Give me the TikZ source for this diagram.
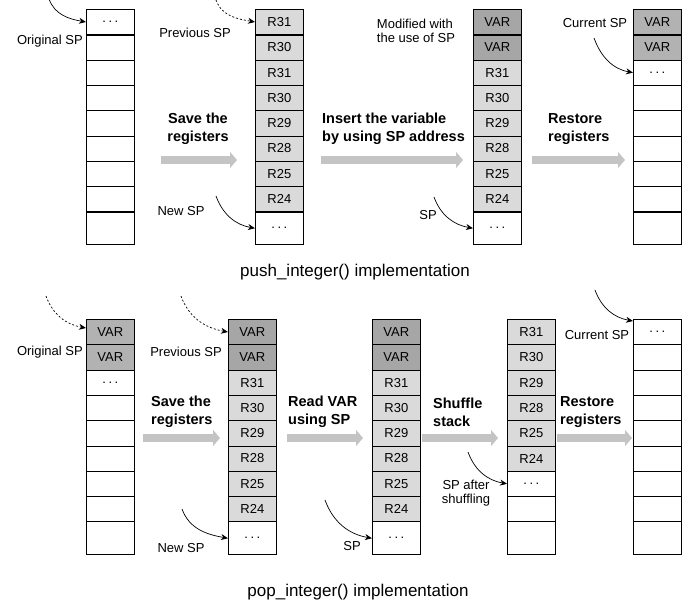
\documentclass[tikz,border=0pt]{standalone}
\usepackage{fontspec}
\setmainfont{Liberation Sans}
\usetikzlibrary{arrows.meta}
\definecolor{dk}{HTML}{A6A6A6}
\definecolor{md}{HTML}{B2B2B2}
\definecolor{lt}{HTML}{DADADA}
\definecolor{ag}{HTML}{C4C4C4}
\newcommand\dts{.\kern2.5pt.\kern2.5pt.}
\newcommand\mkstack[4]{%
  \foreach \s/\t [count=\i] in {#4} {
    \node[cell,\s] (#1-\i) at (#2,{#3+(\i-1)*25.3}) {\t};
  }}
\tikzset{
  cell/.style={draw, line width=0.7pt, minimum width=48pt, minimum height=25.3pt,
    inner sep=0pt, anchor=north west, font=\fontsize{13}{15}\selectfont},
  cellw/.style={fill=white}, celll/.style={fill=lt}, celld/.style={fill=dk}, cellm/.style={fill=md},
  cellt/.style={fill=white, minimum height=33pt},
  thicksep/.style={line width=1.3pt},
  lab/.style={inner sep=0pt, font=\fontsize{13}{14}\selectfont},
  blab/.style={inner sep=0pt, font=\fontsize{14.5}{18}\selectfont\bfseries},
  captxt/.style={inner sep=0pt, font=\fontsize{17}{20}\selectfont},
  ptr/.style={line width=0.7pt, -{Stealth[length=7pt,width=6pt]}},
  ptrd/.style={ptr, dash pattern=on 2pt off 2pt},
  bigarrow/.style={draw=ag, line width=8pt, -{Triangle[length=7pt,width=16pt]}}
}
\begin{document}
\begin{tikzpicture}[x=1pt,y=-1pt]
\useasboundingbox (0,0) rectangle (695,607);
% ---------- top row ----------
\mkstack{t1}{86}{9}{cellw/\dts,cellw/{},cellw/{},cellw/{},cellw/{},cellw/{},cellw/{},cellw/{},cellt/{}}
\mkstack{t2}{255}{9}{celll/R31,celll/R30,celll/R31,celll/R30,celll/R29,celll/R28,celll/R25,celll/R24,cellt/\dts}
\mkstack{t3}{473}{9}{celld/VAR,celld/VAR,celll/R31,celll/R30,celll/R29,celll/R28,celll/R25,celll/R24,cellt/\dts}
\mkstack{t4}{633}{9}{cellm/VAR,cellm/VAR,cellw/\dts,cellw/{},cellw/{},cellw/{},cellw/{},cellw/{},cellt/{}}
\foreach \n in {t1,t2,t3,t4}{\foreach \k in {1,6,8}{\draw[thicksep] (\n-\k.south west) -- (\n-\k.south east);}}
% ---------- bottom row ----------
\mkstack{b1}{86}{319}{cellm/VAR,cellm/VAR,cellw/\dts,cellw/{},cellw/{},cellw/{},cellw/{},cellw/{},cellt/{}}
\mkstack{b2}{228}{319}{celld/VAR,celld/VAR,celll/R31,celll/R30,celll/R29,celll/R28,celll/R25,celll/R24,cellt/\dts}
\mkstack{b3}{372}{319}{celld/VAR,celld/VAR,celll/R31,celll/R30,celll/R29,celll/R28,celll/R25,celll/R24,cellt/\dts}
\mkstack{b4}{507}{319}{celll/R31,celll/R30,celll/R29,celll/R28,celll/R25,celll/R24,cellw/\dts,cellw/{},cellt/{}}
\mkstack{b5}{633}{319}{cellw/\dts,cellw/{},cellw/{},cellw/{},cellw/{},cellw/{},cellw/{},cellw/{},cellt/{}}
\foreach \n in {b1,b2,b3,b4,b5}{\foreach \k in {3,5}{\draw[thicksep] (\n-\k.south west) -- (\n-\k.south east);}}
% ---------- big gray arrows ----------
\coordinate (a1s) at (161,160); \coordinate (a1e) at (237,160);
\coordinate (a2s) at (321,160); \coordinate (a2e) at (463,160);
\coordinate (a3s) at (532,160); \coordinate (a3e) at (625,160);
\coordinate (a4s) at (143,438); \coordinate (a4e) at (220,438);
\coordinate (a5s) at (287,438); \coordinate (a5e) at (363,438);
\coordinate (a6s) at (422,438); \coordinate (a6e) at (498,438);
\coordinate (a7s) at (557,438); \coordinate (a7e) at (632,438);
\foreach \k in {1,...,7}{\draw[bigarrow] (a\k s) -- (a\k e);}
% ---------- step labels ----------
\node[blab, align=center] (l1) at (198,129) {Save the\\registers};
\node[blab, align=left, anchor=west] (l2) at (322,129) {Insert the variable\\by using SP address};
\node[blab, align=left, anchor=west] (l3) at (548,129) {Restore\\registers};
\node[blab, align=left, anchor=west] (l4) at (151,412) {Save the\\registers};
\node[blab, align=left, anchor=west] (l5) at (288,412) {Read VAR\\using SP};
\node[blab, align=left, anchor=west] (l6) at (433,412) {Shuffle\\stack};
\node[blab, align=left, anchor=west] (l7) at (560,412) {Restore\\registers};
% ---------- pointer labels ----------
\node[lab, anchor=east] (o1) at (83,41) {Original SP};
\node[lab, anchor=east] (p1) at (231,33) {Previous SP};
\node[lab] (n1) at (181,211) {New SP};
\node[lab] (s1) at (428,215) {SP};
\node[lab, align=left] (m1) at (416,31) {Modified with\\the use of SP};
\node[lab] (c1) at (595,23) {Current SP};
\node[lab, anchor=east] (o2) at (83,352) {Original SP};
\node[lab, anchor=east] (p2) at (222,352) {Previous SP};
\node[lab] (n2) at (181,548) {New SP};
\node[lab] (s2) at (352,546) {SP};
\node[lab, align=center] (sa) at (466,493) {SP after\\shuffling};
\node[lab] (c2) at (597,335) {Current SP};
% ---------- pointers ----------
\coordinate (q1) at (49,-1);   \draw[ptr]  (q1) to[out=-70,in=170] (t1-1.west);
\coordinate (q2) at (216,0);   \draw[ptrd] (q2) to[out=-70,in=170] (t2-1.west);
\coordinate (q3) at (216,196); \draw[ptr]  (q3) to[out=-70,in=170] (t2-9.west);
\coordinate (q4) at (434,197); \draw[ptr]  (q4) to[out=-70,in=170] (t3-9.west);
\coordinate (q5) at (594,38);  \draw[ptr]  (q5) to[out=-70,in=170] (t4-3.west);
\coordinate (q6) at (46,296);  \draw[ptrd] (q6) to[out=-70,in=170] ([yshift=4pt]b1-1.west);
\coordinate (q7) at (181,296); \draw[ptrd] (q7) to[out=-70,in=170] (b2-1.west);
\coordinate (q8) at (182,509); \draw[ptr]  (q8) to[out=-70,in=170] (b2-9.west);
\coordinate (q9) at (325,500); \draw[ptr]  (q9) to[out=-70,in=170] (b3-9.west);
\coordinate (q10) at (468,452); \draw[ptr] (q10) to[out=-70,in=170] (b4-7.west);
\coordinate (q11) at (595,290); \draw[ptr] (q11) to[out=-70,in=170] ([yshift=-2pt]b5-1.north west);
% ---------- captions ----------
\node[captxt] (cap1) at (355,272) {push\_integer() implementation};
\node[captxt] (cap2) at (358,592) {pop\_integer() implementation};
\end{tikzpicture}
\end{document}
